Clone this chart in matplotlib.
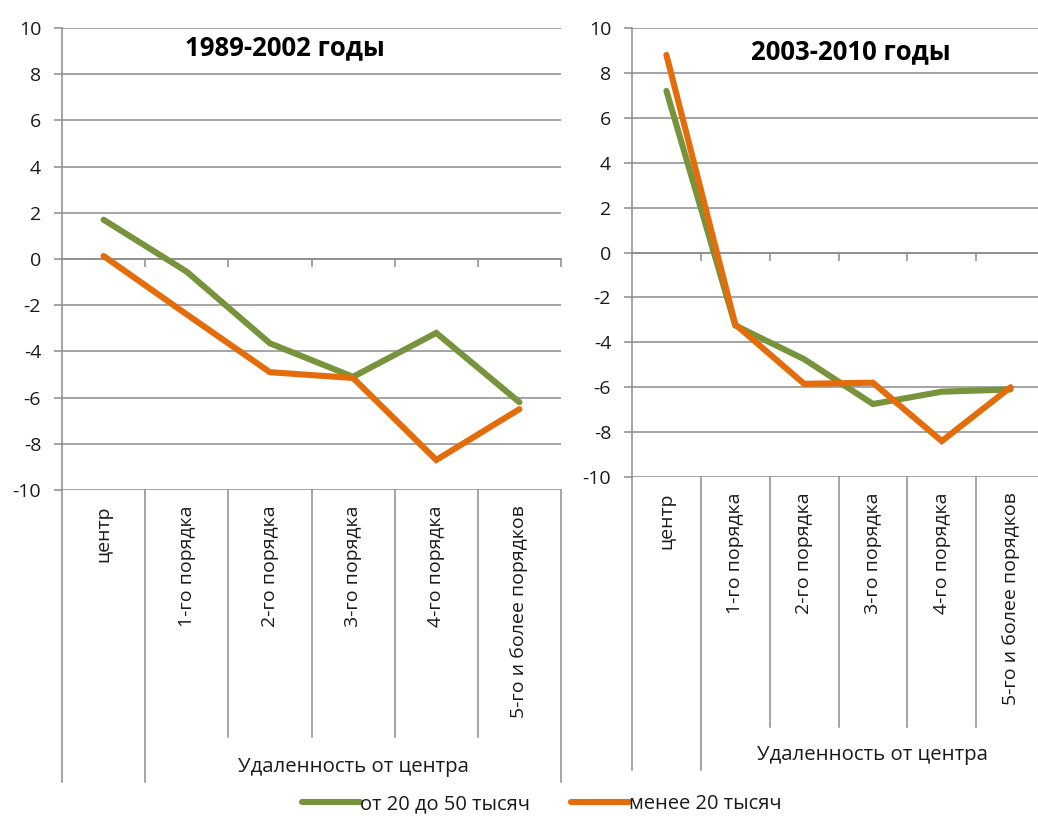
import matplotlib
matplotlib.use("Agg")
import matplotlib.pyplot as plt
from matplotlib.lines import Line2D

plt.rcParams['font.family'] = ['Open Sans', 'DejaVu Sans']

categories = ["центр", "1-го порядка", "2-го порядка", "3-го порядка",
              "4-го порядка", "5-го и более порядков"]
group_label = "Удаленность от центра"
series_names = ["от 20 до 50 тысяч", "менее 20 тысяч"]

left_title = "1989-2002 годы"
left_green = [1.7, -0.55, -3.65, -5.1, -3.2, -6.2]
left_orange = [0.13, -2.4, -4.9, -5.15, -8.7, -6.5]

right_title = "2003-2010 годы"
right_green = [7.2, -3.25, -4.75, -6.75, -6.2, -6.1]
right_orange = [8.8, -3.2, -5.85, -5.8, -8.4, -6.0]

yticks = list(range(-10, 11, 2))

GREEN = "#77933C"
ORANGE = "#E46C0A"
GRID = "#8C8C8C"
TXT = "#1A1A1A"

W, H = 1038, 819
fig = plt.figure(figsize=(W / 100, H / 100), dpi=100)


def px_axes(x0, x1, ytop, ybot):
    return fig.add_axes([x0 / W, 1 - ybot / H, (x1 - x0) / W, (ybot - ytop) / H])


def draw(ax, title, green, orange, title_x, title_y, long_f, short_f, group_f, draw_right):
    n = len(categories)
    xs = [i + 0.5 for i in range(n)]
    ax.set_xlim(0, n)
    ax.set_ylim(-10, 10)
    ax.set_yticks(yticks)
    ax.set_yticklabels([str(v) for v in yticks], fontsize=14, color=TXT)
    ax.yaxis.grid(True, color=GRID, linewidth=1.1)
    ax.set_axisbelow(True)
    for s in ['top', 'right']:
        ax.spines[s].set_visible(False)
    ax.spines['left'].set_color(GRID)
    ax.spines['left'].set_linewidth(1.1)
    ax.spines['bottom'].set_position(('data', 0))
    ax.spines['bottom'].set_color(GRID)
    ax.spines['bottom'].set_linewidth(1.1)
    ax.set_xticks(list(range(1, n + 1)))
    ax.set_xticklabels([])
    ax.tick_params(axis='x', direction='out', length=6, width=1.1, color=GRID)
    ax.tick_params(axis='y', direction='out', length=6, width=1.1, color=GRID, pad=9)

    ax.plot(xs, green, color=GREEN, lw=4.4, solid_capstyle='round', solid_joinstyle='miter', zorder=3)
    ax.plot(xs, orange, color=ORANGE, lw=4.4, solid_capstyle='round', solid_joinstyle='miter', zorder=4)

    ax.text(title_x, title_y, title, transform=ax.get_xaxis_transform(),
            ha='center', va='center', fontsize=18.5, fontweight='bold', color='black')

    tr = ax.get_xaxis_transform()
    for b in range(0, n + 1):
        if b == n and not draw_right:
            continue
        f = long_f if b in (0, 1, n) else short_f
        ax.add_line(Line2D([b, b], [0, f], transform=tr, color=GRID, lw=1.1, clip_on=False))
    for i, c in enumerate(categories):
        ax.annotate(c, xy=(i + 0.5, 0), xycoords=tr, xytext=(0, -11),
                    textcoords='offset points', rotation=90, ha='center', va='top',
                    fontsize=14, color=TXT)
    ax.text(0.5 * (1 + n), group_f, group_label, transform=tr, ha='center',
            va='center', fontsize=14.7, color=TXT)


axL = px_axes(62, 561, 28, 490)
draw(axL, left_title, left_green, left_orange, 2.68, 0.957, -0.632, -0.535, -0.60, True)

axR = px_axes(632, 1045, 28, 477)
draw(axR, right_title, right_green, right_orange, 3.18, 0.947, -0.653, -0.557, -0.62, False)

handles = [Line2D([], [], color=GREEN, lw=4.4, solid_capstyle='round'),
           Line2D([], [], color=ORANGE, lw=4.4, solid_capstyle='round')]
fig.legend(handles, series_names, loc='center', bbox_to_anchor=(0.522, 0.018),
           ncol=2, frameon=False, fontsize=14.5, handlelength=2.9, handletextpad=0.0,
           columnspacing=2.0, labelcolor=TXT)

fig.savefig("out.png", dpi=100)
